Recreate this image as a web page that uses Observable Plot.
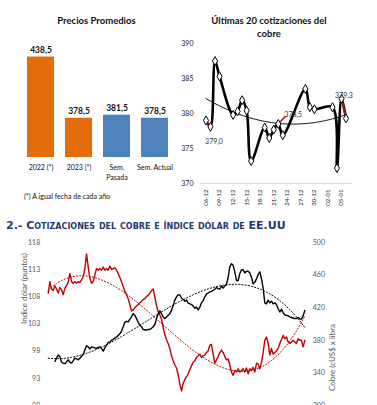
<!DOCTYPE html>
<html><head><meta charset="utf-8">
<script src="https://cdn.jsdelivr.net/npm/d3@7"></script>
<script src="https://cdn.jsdelivr.net/npm/@observablehq/plot@0.6"></script>
<style>
body{margin:0;background:#fff;}
#root{position:relative;width:377px;height:405px;overflow:hidden;font-family:Lato,"Noto Sans",sans-serif;}
.abs{position:absolute;}
.ttl{font-weight:bold;font-size:9.5px;color:#111;text-align:center;line-height:13px;}
</style></head><body><div id="root"></div>
<script>
// ---------- Data: Precios Promedios ----------
const barCats = ["2022 (*)", "2023 (*)", "Sem.\nPasada", "Sem. Actual"];
const barValues = [438.5, 378.5, 381.5, 378.5];
const barColors = ["#E46C0A", "#E46C0A", "#4F81BD", "#4F81BD"];
const barTitle = "Precios Promedios";
const barNote = "(*) A igual fecha de cada año";

// ---------- Data: Últimas 20 cotizaciones ----------
const lastTitle = "Últimas 20 cotizaciones del cobre";
const lastDates = ["2022-12-06","2022-12-07","2022-12-08","2022-12-09","2022-12-12","2022-12-13","2022-12-14","2022-12-15","2022-12-16","2022-12-19","2022-12-20","2022-12-21","2022-12-22","2022-12-23","2022-12-28","2022-12-29","2022-12-30","2023-01-03","2023-01-04","2023-01-05","2023-01-06"];
const lastValues = [379.0,378.1,387.5,385.3,379.8,380.3,381.9,380.4,373.2,378.0,376.5,377.7,378.5,376.9,383.5,380.9,380.6,380.9,372.2,382.1,379.3];
const lastTickDates = ["2022-12-06","2022-12-09","2022-12-12","2022-12-15","2022-12-18","2022-12-21","2022-12-24","2022-12-27","2022-12-30","2023-01-02","2023-01-05"];
const lastYTicks = [370, 375, 380, 385, 390];
const labelledIdx = [0, 12, 20];

// ---------- Data: Cobre e índice dólar ----------
const sectionTitle = "2.- Cotizaciones del cobre e índice dólar de EE.UU";
const cuValues = [438,452,443,441,447,443,438,445,442,436,
444,447,451,462,452,450,452,450,452,451,
454,458,468,486,470,456,450,452,460,468,
466,468,466,470,466,468,466,471,467,468,
469,466,462,457,452,446,440,436,431,424,
416,417,420,422,424,426,428,430,431,434,
435,438,441,443,433,423,415,411,406,396,
387,381,376,370,361,355,350,346,338,326,
318,327,332,335,339,344,349,353,355,359,
361,363,359,361,362,365,367,374,375,363,
352,356,360,365,368,365,360,356,357,350,
341,337,343,341,345,341,343,345,341,346,
339,345,343,347,341,352,351,345,353,365,
380,384,376,362,370,363,365,367,370,376,
381,386,382,384,378,376,378,380,378,376,
382,380,380,372,380];
const dxyValues = [null,null,null,null,96.1,96.7,97.3,97.0,96.0,95.8,
95.7,96.0,96.4,96.0,95.8,96.2,96.7,96.6,96.4,96.7,
97.0,97.4,98.2,99.0,98.8,98.4,98.8,98.7,98.6,98.5,
98.7,98.8,98.5,98.0,98.6,99.1,99.6,99.7,100.0,100.2,
100.4,100.6,100.9,101.2,101.7,102.5,103.3,103.5,103.4,103.9,
104.3,104.9,104.6,104.0,103.3,102.8,102.5,102.0,101.9,101.9,
102.0,102.0,102.2,102.5,102.9,104.0,104.9,105.4,104.9,104.3,
104.0,104.3,104.6,104.9,105.5,106.4,107.4,108.0,108.4,108.3,
107.8,107.5,107.2,107.4,106.9,106.7,106.6,106.3,105.9,106.1,
105.6,106.1,106.9,107.3,108.0,108.5,108.7,108.9,109.0,109.2,
109.4,109.7,109.5,109.4,110.0,109.6,110.0,110.3,111.6,113.5,
114.1,113.8,112.6,111.0,111.0,112.3,113.0,113.0,112.4,112.7,
112.7,112.4,111.6,110.4,110.7,111.3,112.1,112.6,111.3,109.6,
106.9,106.7,107.4,106.9,107.2,106.7,106.9,106.6,105.8,105.2,
105.7,105.1,104.7,104.6,104.5,104.3,104.2,104.1,104.0,104.0,
104.2,103.9,103.9,104.5,105.5];
const dxyTicks = [88, 93, 98, 103, 108, 113, 118];
const cuTicks = [300, 340, 380, 420, 460, 500];
const dxyLabel = "Indice dólar (puntos)";
const cuLabel = "Cobre (cUS$ x libra";

// ---------- helpers ----------
const comma = v => v.toFixed(1).replace(".", ",");
function polyfit(xs, ys, deg) {
  const n = deg + 1, xm = d3.mean(xs), xs2 = d3.deviation(xs);
  const A = Array.from({length: n}, () => new Array(n + 1).fill(0));
  xs.forEach((x, k) => {
    const u = (x - xm) / xs2, p = [];
    for (let i = 0; i < n; i++) p.push(u ** i);
    for (let i = 0; i < n; i++) { for (let j = 0; j < n; j++) A[i][j] += p[i] * p[j]; A[i][n] += p[i] * ys[k]; }
  });
  for (let c = 0; c < n; c++) {
    let piv = c; for (let r = c + 1; r < n; r++) if (Math.abs(A[r][c]) > Math.abs(A[piv][c])) piv = r;
    [A[c], A[piv]] = [A[piv], A[c]];
    for (let r = 0; r < n; r++) if (r !== c) { const f = A[r][c] / A[c][c]; for (let k = c; k <= n; k++) A[r][k] -= f * A[c][k]; }
  }
  const coef = A.map((row, i) => row[n] / row[i]);
  return x => { const u = (x - xm) / xs2; return coef.reduce((s, c, i) => s + c * u ** i, 0); };
}
const root = document.getElementById("root");
function place(el, left, top) { el.classList.add("abs"); el.style.left = left + "px"; el.style.top = top + "px"; root.appendChild(el); return el; }
function div(html, cls, left, top, width, style) { const d = document.createElement("div"); d.className = cls || ""; d.innerHTML = html; if (width) d.style.width = width + "px"; if (style) Object.assign(d.style, style); return place(d, left, top); }

// ---------- Chart 1: bars ----------
const bars = barCats.map((c, i) => ({cat: c, value: barValues[i], color: barColors[i]}));
div(barTitle, "ttl", 0, 14, 193);
place(Plot.plot({
  width: 190, height: 210, marginTop: 55, marginBottom: 53, marginLeft: 20, marginRight: 16,
  style: {fontFamily: "Lato, sans-serif", background: "transparent"},
  x: {domain: barCats, paddingInner: 0.3, paddingOuter: 0.15, axis: null},
  y: {domain: [340, 440], axis: null},
  marks: [
    Plot.barY(bars, {x: "cat", y1: 340, y2: "value", fill: "color"}),
    Plot.text(bars, {x: "cat", y: "value", text: d => comma(d.value), dy: -7, fontWeight: "bold", fontSize: 8.5, fill: "#111"}),
    Plot.text(bars, {x: "cat", y: 340, text: "cat", lineAnchor: "top", dy: 6, fontSize: 7, lineHeight: 1.4, fill: "#111"})
  ]
}), 0, 0);
div(barNote, "", 24, 192, 140, {fontSize: "7px", color: "#111"});

// ---------- Chart 2: last 20 ----------
const last = lastDates.map((d, i) => ({date: new Date(d), value: lastValues[i], day: (new Date(d) - new Date(lastDates[0])) / 864e5}));
const fit2 = polyfit(last.map(d => d.day), last.map(d => d.value), 2);
const t0 = +new Date(lastDates[0]);
const trend2 = d3.range(0, last[last.length - 1].day + 0.01, 0.5).map(day => ({date: new Date(t0 + day * 864e5), value: fit2(day)}));
const lbl = labelledIdx.map(i => last[i]);
div(lastTitle, "ttl", 207, 14, 124);
place(Plot.plot({
  width: 207, height: 210, marginTop: 43, marginBottom: 27, marginLeft: 30, marginRight: 25,
  style: {fontFamily: "Lato, sans-serif", background: "transparent"},
  x: {type: "utc", domain: [new Date(lastTickDates[0]), new Date(lastTickDates[lastTickDates.length - 1])], range: [35.5, 171]},
  y: {domain: [370, 390]},
  marks: [
    Plot.ruleY([370], {stroke: "#d9d9d9"}),
    Plot.axisY({ticks: lastYTicks, tickSize: 0, tickPadding: 7, fontSize: 7, fill: "#222", label: null}),
    Plot.axisX({ticks: lastTickDates.map(d => new Date(d)), tickFormat: d3.utcFormat("%d-%m"), tickRotate: -90, tickSize: 0, tickPadding: 6, fontSize: 6, fill: "#222", label: null}),
    Plot.line(trend2, {x: "date", y: "value", stroke: "#111", strokeWidth: 1}),
    Plot.line(last, {x: "date", y: "value", stroke: "#000", strokeWidth: 2.6, curve: "catmull-rom"}),
    Plot.line(last.slice(0, 2), {x: "date", y: "value", stroke: "#a01818", strokeWidth: 2.2}),
    Plot.line(last.slice(-2), {x: "date", y: "value", stroke: "#a01818", strokeWidth: 2.2}),
    Plot.link([last[12]], {x1: "date", y1: "value", x2: d => new Date(+d.date + 1.6 * 864e5), y2: d => d.value + 1.1, stroke: "#a01818", strokeWidth: 1.5}),
    Plot.dot(last, {x: "date", y: "value", symbol: "diamond", r: 2.7, fill: "white", stroke: "#000", strokeWidth: 1}),
    Plot.text([lbl[0]], {x: "date", y: "value", text: d => comma(d.value), dx: 8, dy: 21, fontSize: 7, fill: "#333"}),
    Plot.text([lbl[1]], {x: "date", y: "value", text: d => comma(d.value), dx: 15, dy: -9, fontSize: 7, fill: "#333"}),
    Plot.text([lbl[2]], {x: "date", y: "value", text: d => comma(d.value), dx: -2, dy: -23, fontSize: 7, fill: "#333"})
  ]
}), 170, 0);

// ---------- Chart 3: cobre vs dólar ----------
div(sectionTitle, "", 6, 219, 360, {fontFamily: "'DejaVu Sans', sans-serif", fontWeight: "bold", fontSize: "11px", fontVariant: "small-caps", color: "#1F3B6E", whiteSpace: "nowrap"});
const toLeft = cu => 88 + (cu - 300) * 30 / 200;
const fromLeft = v => 300 + (v - 88) * 200 / 30;
const cu = cuValues.map((v, i) => ({i, v: toLeft(v)}));
const dxy = dxyValues.map((v, i) => ({i, v})).filter(d => d.v != null);
const fitCu = polyfit(cu.map(d => d.i), cu.map(d => d.v), 3);
const fitDx = polyfit(dxy.map(d => d.i), dxy.map(d => d.v), 3);
const xr = d3.range(0, cuValues.length - 1 + 0.01, 1);
const trCu = xr.map(i => ({i, v: fitCu(i)}));
const trDx = xr.map(i => ({i, v: fitDx(i)}));
place(Plot.plot({
  width: 377, height: 200, marginTop: 7, marginBottom: 30, marginLeft: 47.7, marginRight: 72.7,
  style: {fontFamily: "Lato, sans-serif", background: "transparent"},
  x: {domain: [0, cuValues.length - 1], axis: null},
  y: {domain: [88, 118]},
  marks: [
    Plot.axisY({ticks: dxyTicks, tickSize: 0, tickPadding: 8, fontSize: 7, fill: "#595959", label: null}),
    Plot.axisY({anchor: "right", ticks: cuTicks.map(toLeft), tickFormat: v => Math.round(fromLeft(v)), tickSize: 0, tickPadding: 8, fontSize: 7, fill: "#595959", label: null}),
    Plot.text([dxyLabel], {text: d => d, frameAnchor: "left", rotate: -90, dx: -24, fontSize: 8, fill: "#595959"}),
    Plot.text([cuLabel], {text: d => d, frameAnchor: "right", rotate: -90, dx: 27.5, fontSize: 8, fill: "#595959"}),
    Plot.line(trCu, {x: "i", y: "v", stroke: "#C00000", strokeWidth: 1, strokeDasharray: "1.2,2"}),
    Plot.line(trDx, {x: "i", y: "v", stroke: "#000", strokeWidth: 1, strokeDasharray: "1.2,2"}),
    Plot.line(cu, {x: "i", y: "v", stroke: "#C00000", strokeWidth: 1.4}),
    Plot.line(dxy, {x: "i", y: "v", stroke: "#000", strokeWidth: 1.4})
  ]
}), 0, 235);
</script></body></html>
